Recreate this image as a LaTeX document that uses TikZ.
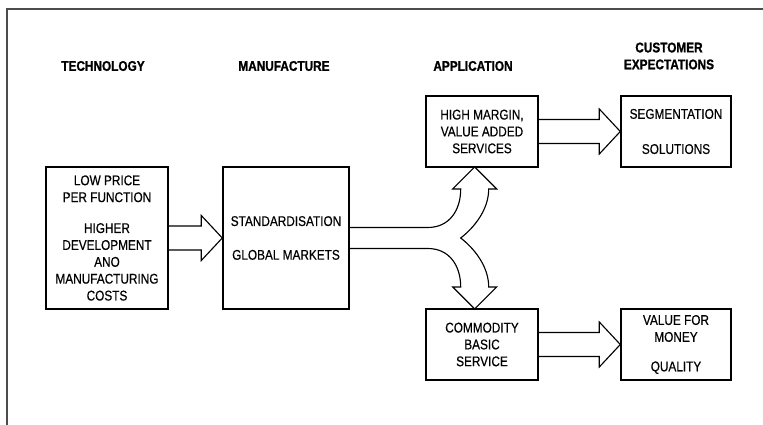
\documentclass[tikz,border=0pt]{standalone}
\usepackage{fontspec}
\setmainfont{Liberation Sans}[FakeStretch=0.84, UprightFeatures={FakeBold=0.5}, BoldFeatures={FakeBold=1}]
\usepackage{tikz}
\usetikzlibrary{calc}
\tikzstyle{stage} = [font=\bfseries, inner sep=0pt, align=center]
\tikzstyle{bigbox} = [rectangle, minimum width=3.05cm, minimum height=3.55cm, align=center, draw=black, line width=1pt]
\tikzstyle{smallbox} = [rectangle, minimum width=2.8cm, minimum height=1.775cm, align=center, draw=black, line width=1pt]
\tikzstyle{fatline} = [line width=0.8pt, line join=miter]
\tikzstyle{frame} = [line width=1.4pt, draw=black!70]
\newcommand{\fatarrow}[2]{%
  \draw [fatline] ($(#1)+(0,0.3)$) -- ($(#2)+(-0.525,0.3)$) -- ($(#2)+(-0.525,0.5625)$) -- (#2)
    -- ($(#2)+(-0.525,-0.5625)$) -- ($(#2)+(-0.525,-0.3)$) -- ($(#1)+(0,-0.3)$);
}
\begin{document}
\begin{tikzpicture}[node distance=4.9cm]
    \useasboundingbox (-2.675,-4.675) rectangle (16.4,5.95);
    \draw [frame] (-2.5,-4.675) -- (-2.5,5.725) -- (16.4,5.725);

    % Nodes
    \node (tech) [bigbox] {LOW PRICE\\PER FUNCTION\\[10pt]HIGHER\\DEVELOPMENT\\ANO\\MANUFACTURING\\COSTS};
    \node (manuf) [bigbox, minimum width=3.15cm, right of=tech, xshift=-0.425cm] {STANDARDISATION\\[12pt]GLOBAL MARKETS};
    \node (high) [smallbox, right of=manuf, yshift=2.6625cm] {HIGH MARGIN,\\VALUE ADDED\\SERVICES};
    \node (seg) [smallbox, minimum width=2.75cm, right of=high, xshift=-0.05cm] {SEGMENTATION\\[13pt]SOLUTIONS};
    \node (comm) [smallbox, below of=high, yshift=-0.425cm] {COMMODITY\\BASIC\\SERVICE};
    \node (value) [smallbox, minimum width=2.75cm, right of=comm, xshift=-0.05cm] {VALUE FOR\\MONEY\\[9pt]QUALITY};

    % Headings
    \node (techhead) [stage, above of=tech, yshift=-0.6cm, xshift=-0.1cm] {TECHNOLOGY};
    \node (manufhead) [stage, right of=techhead, xshift=-0.375cm] {MANUFACTURE};
    \node (apphead) [stage, right of=manufhead, xshift=-0.175cm] {APPLICATION};
    \node (custhead) [stage, right of=apphead, yshift=0.25cm] {CUSTOMER\\EXPECTATIONS};

    % Arrows
    \fatarrow{tech.east}{manuf.west}
    \fatarrow{high.east}{seg.west}
    \fatarrow{comm.east}{value.west}
    \draw [fatline, shift={(manuf.east)}] (0,0.2625) -- (1.95,0.2625)
      .. controls (2.5,0.2625) and (2.775,0.7) .. (2.775,1.225) -- (2.575,1.225) -- (3.125,1.775) -- (3.675,1.225) -- (3.475,1.225)
      .. controls (3.475,0.7) and (3.1,0.25) .. (2.775,0)
      .. controls (3.1,-0.25) and (3.475,-0.7) .. (3.475,-1.225) -- (3.675,-1.225) -- (3.125,-1.775) -- (2.575,-1.225) -- (2.775,-1.225)
      .. controls (2.775,-0.7) and (2.5,-0.2625) .. (1.95,-0.2625) -- (0,-0.2625);

\end{tikzpicture}
\end{document}
